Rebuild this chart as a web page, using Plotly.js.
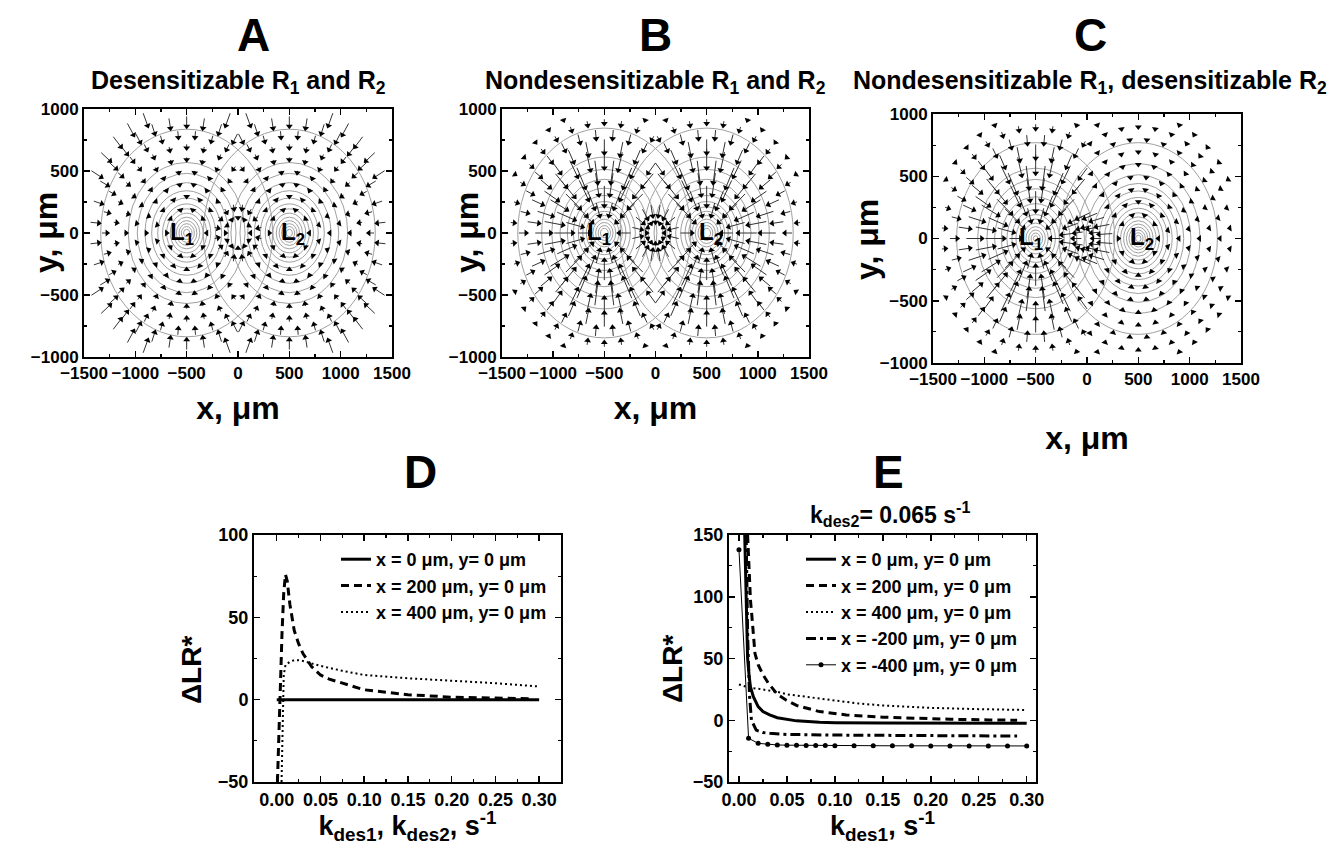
<!DOCTYPE html>
<html><head><meta charset="utf-8">
<script src="https://cdn.plot.ly/plotly-3.0.1.min.js"></script>
<style>body{margin:0;background:#fff}</style>
</head><body><div id="chart" style="width:1339px;height:845px"></div>
<script>
// ---------------- DATA ----------------
// Panel D: ΔLR* vs kdes1 = kdes2
const kD_0 = [0.0, 0.05, 0.10, 0.15, 0.20, 0.25, 0.30];
const vD_0 = [0, 0, 0, 0, 0, 0, 0];
const kD_200 = [0.0008, 0.002, 0.004, 0.006, 0.008, 0.010, 0.012, 0.015, 0.02, 0.025, 0.03, 0.04, 0.05, 0.06, 0.075, 0.10, 0.125, 0.15, 0.175, 0.20, 0.25, 0.29];
const vD_200 = [-50, -25, 5, 40, 65, 76, 72, 58, 42, 34, 28, 20, 15, 12.5, 10, 6, 4.5, 3, 2.3, 1.5, 1, 0.5];
const kD_400 = [0.0055, 0.007, 0.008, 0.010, 0.015, 0.02, 0.025, 0.03, 0.04, 0.05, 0.075, 0.10, 0.15, 0.20, 0.25, 0.30];
const vD_400 = [-50, -5, 15, 21, 23, 24, 24, 23.5, 22, 20.5, 17.5, 15, 13, 11.5, 10, 8];

// Panel E: ΔLR* vs kdes1 (kdes2 = 0.065)
const kE_0 = [0.006, 0.007, 0.008, 0.009, 0.0107, 0.012, 0.015, 0.020, 0.025, 0.032, 0.040, 0.049, 0.060, 0.084, 0.10, 0.15, 0.20, 0.25, 0.30];
const vE_0 = [150, 110, 75, 50, 35, 27, 19, 11, 7, 4.3, 2, 0.8, -0.5, -1.7, -2, -2.3, -2.5, -2.5, -2.5];
const kE_200 = [0.009, 0.0105, 0.012, 0.0135, 0.0167, 0.020, 0.025, 0.0306, 0.040, 0.049, 0.060, 0.084, 0.112, 0.15, 0.18, 0.22, 0.26, 0.29];
const vE_200 = [150, 120, 97, 84, 54, 45, 37, 30, 21, 16.4, 12, 7, 4.3, 2.5, 1.6, 0.8, 0.3, 0];
const kE_400 = [0.0, 0.01, 0.02, 0.03, 0.04, 0.05, 0.075, 0.10, 0.125, 0.15, 0.18, 0.20, 0.25, 0.30];
const vE_400 = [29, 26.5, 25.5, 24.5, 23, 21, 18.5, 15.5, 13.5, 12, 10.5, 10, 9, 8.3];
const kE_m200 = [0.0075, 0.009, 0.011, 0.013, 0.018, 0.025, 0.032, 0.05, 0.10, 0.15, 0.20, 0.25, 0.29];
const vE_m200 = [150, 70, 20, 0, -8, -10, -10.6, -11.5, -12, -12.3, -12.5, -12.7, -12.8];
const kE_m400 = [0.0, 0.01, 0.02, 0.03, 0.04, 0.05, 0.06, 0.07, 0.08, 0.09, 0.10, 0.12, 0.14, 0.16, 0.18, 0.20, 0.22, 0.24, 0.26, 0.28, 0.30];
const vE_m400 = [138, -14.6, -18.7, -19.5, -20, -20.2, -20.3, -20.4, -20.5, -20.5, -20.6, -20.6, -20.7, -20.7, -20.7, -20.8, -20.8, -20.8, -20.8, -20.8, -20.8];

// Legend labels
const legendLabelsD = ["x = 0 μm, y= 0 μm", "x = 200 μm, y= 0 μm", "x = 400 μm, y= 0 μm"];
const legendLabelsE = ["x = 0 μm, y= 0 μm", "x = 200 μm, y= 0 μm", "x = 400 μm, y= 0 μm", "x = -200 μm, y= 0 μm", "x = -400 μm, y= 0 μm"];

// Source positions (μm)
const sourceX = [-500, 500];
const sourceLabels = ["L<sub>1</sub>", "L<sub>2</sub>"];

// Contour radii (μm)
const contourA = [837, 569, 481, 406, 341, 282, 235, 195, 160, 128, 100, 75, 52, 30];
const contourB = [846, 612, 514, 433, 362, 303, 254, 211, 175, 142, 112, 85, 60, 38];
const contourC1 = [770, 565, 475, 400, 335, 280, 232, 192, 156, 124, 95, 68, 44, 22];
const contourC2 = [770, 600, 512, 442, 382, 330, 284, 243, 206, 173, 143, 116, 91, 68, 46, 26];

// Quiver sampling rings around each source and the midpoint
const ringR = [200, 300, 400, 500, 600, 700, 800, 900, 1000];
const ringN = [10, 14, 18, 20, 24, 26, 30, 34, 38];
const centerR_A = [130, 215];
const centerR_BC = [95, 185];
const centerN = [12, 16];
// arrow lengths (μm) per ring
const lenA = [10, 10, 12, 15, 20, 30, 50, 80, 110];
const lenA_c = [15, 35];
const lenB = [110, 160, 180, 180, 150, 110, 70, 35, 15];
const lenB_c = [15, 90];
const lenC1 = [110, 160, 180, 180, 150, 110, 70, 35, 15];
const lenC2 = [10, 10, 10, 10, 10, 10, 10, 10, 10];
const lenC_c = [80, 130];

// ---------------- LAYOUT GEOMETRY ----------------
const W = 1339, H = 845;
const FONT = "Liberation Sans, Arial, sans-serif";
const px = (a, b) => [a / W, b / W];
const py = (top, bot) => [1 - bot / H, 1 - top / H];
const dom = {
  A: {x: px(84, 392), y: py(109, 357)},
  B: {x: px(502, 809), y: py(109, 357)},
  C: {x: px(933, 1241), y: py(114, 363)},
  D: {x: px(254, 561), y: py(535, 782)},
  E: {x: px(729, 1036), y: py(535, 782)}
};

function arrows(xa, ya, d, lens, centerR, lensC, centerTarget) {
  const sx = (d.x[1] - d.x[0]) * W / 3000;
  const sy = (d.y[1] - d.y[0]) * H / 2000;
  const shX = [], shY = [], hX = [], hY = [], ang = [];
  function add(x, y, tx, ty, L) {
    const dx = tx - x, dy = ty - y, dd = Math.hypot(dx, dy);
    if (dd < 1) return;
    const ux = dx / dd, uy = dy / dd;
    const x0 = x - ux * L / 2, y0 = y - uy * L / 2, x1 = x + ux * L / 2, y1 = y + uy * L / 2;
    shX.push(x0, x1, null); shY.push(y0, y1, null);
    hX.push(x1); hY.push(y1);
    ang.push(Math.atan2(ux * sx, uy * sy) * 180 / Math.PI);
  }
  sourceX.forEach((cx, si) => {
    ringR.forEach((r, i) => {
      const n = ringN[i];
      for (let j = 0; j < n; j++) {
        const a = 2 * Math.PI * j / n + (i % 2 ? Math.PI / n : 0);
        const x = cx + r * Math.cos(a), y = r * Math.sin(a);
        if (x * cx < 0) continue;
        if (Math.hypot(x, y) < 260) continue;
        if (Math.abs(x) > 1420 || Math.abs(y) > 950) continue;
        add(x, y, cx, 0, lens[si][i]);
      }
    });
  });
  centerR.forEach((r, i) => {
    const n = centerN[i];
    for (let j = 0; j < n; j++) {
      const a = 2 * Math.PI * j / n + (i % 2 ? Math.PI / n : 0);
      const x = r * Math.cos(a), y = r * Math.sin(a);
      const t = centerTarget === 'L1' ? [-500, 0] : [0, 0];
      add(x, y, t[0], t[1], lensC[i]);
    }
  });
  return [
    {x: shX, y: shY, xaxis: xa, yaxis: ya, mode: 'lines', line: {color: '#333', width: 1}, showlegend: false, hoverinfo: 'skip'},
    {x: hX, y: hY, xaxis: xa, yaxis: ya, mode: 'markers', marker: {symbol: 'triangle-up', size: 6, color: '#000', angle: ang}, showlegend: false, hoverinfo: 'skip'}
  ];
}

const traces = [];
traces.push(...arrows('x', 'y', dom.A, [lenA, lenA], centerR_A, lenA_c, 'O'));
traces.push(...arrows('x2', 'y2', dom.B, [lenB, lenB], centerR_BC, lenB_c, 'O'));
traces.push(...arrows('x3', 'y3', dom.C, [lenC1, lenC2], centerR_BC, lenC_c, 'L1'));

// D lines
traces.push({x: kD_0, y: vD_0, xaxis: 'x4', yaxis: 'y4', mode: 'lines', name: legendLabelsD[0], line: {color: '#000', width: 3}, legend: 'legend'});
traces.push({x: kD_200, y: vD_200, xaxis: 'x4', yaxis: 'y4', mode: 'lines', name: legendLabelsD[1], line: {color: '#000', width: 3, dash: '8px,5px'}, legend: 'legend'});
traces.push({x: kD_400, y: vD_400, xaxis: 'x4', yaxis: 'y4', mode: 'lines', name: legendLabelsD[2], line: {color: '#000', width: 2, dash: '2px,3px'}, legend: 'legend'});
// E lines
traces.push({x: kE_0, y: vE_0, xaxis: 'x5', yaxis: 'y5', mode: 'lines', name: legendLabelsE[0], line: {color: '#000', width: 3}, legend: 'legend2'});
traces.push({x: kE_200, y: vE_200, xaxis: 'x5', yaxis: 'y5', mode: 'lines', name: legendLabelsE[1], line: {color: '#000', width: 3, dash: '8px,5px'}, legend: 'legend2'});
traces.push({x: kE_400, y: vE_400, xaxis: 'x5', yaxis: 'y5', mode: 'lines', name: legendLabelsE[2], line: {color: '#000', width: 2, dash: '2px,3px'}, legend: 'legend2'});
traces.push({x: kE_m200, y: vE_m200, xaxis: 'x5', yaxis: 'y5', mode: 'lines', name: legendLabelsE[3], line: {color: '#000', width: 3, dash: '10px,4px,3px,4px'}, legend: 'legend2'});
traces.push({x: kE_m400, y: vE_m400, xaxis: 'x5', yaxis: 'y5', mode: 'lines+markers', name: legendLabelsE[4], line: {color: '#000', width: 1}, marker: {color: '#000', size: 5}, legend: 'legend2'});

// shapes: contour circles
const shapes = [];
function circles(xr, yr, cx, radii) {
  radii.forEach(r => shapes.push({type: 'circle', xref: xr, yref: yr, x0: cx - r, x1: cx + r, y0: -r, y1: r, line: {color: '#a0a0a0', width: 1}, layer: 'below'}));
}
circles('x', 'y', sourceX[0], contourA); circles('x', 'y', sourceX[1], contourA);
circles('x2', 'y2', sourceX[0], contourB); circles('x2', 'y2', sourceX[1], contourB);
circles('x3', 'y3', sourceX[0], contourC1); circles('x3', 'y3', sourceX[1], contourC2);

const tickF = (s) => ({family: FONT, size: s, color: '#000', weight: 'bold'});
function ax(domain, range, dtick, minorDtick, fs, extra) {
  return Object.assign({
    domain: domain, range: range, dtick: dtick, tick0: 0, ticks: 'inside', ticklen: 6, tickwidth: 1.5, tickcolor: '#000',
    minor: {dtick: minorDtick, ticks: 'inside', ticklen: 3, tickcolor: '#000', tickwidth: 1.2},
    showline: true, linecolor: '#000', linewidth: 2, mirror: 'ticks', showgrid: false, zeroline: false,
    tickfont: tickF(fs), tickangle: 0, fixedrange: true
  }, extra || {});
}
const xTitle = (t, s, sz) => ({title: {text: t, font: {family: FONT, size: sz, color: '#000', weight: 'bold'}, standoff: s}});

const layout = {
  width: W, height: H, margin: {l: 0, r: 0, t: 0, b: 0}, paper_bgcolor: '#fff', plot_bgcolor: '#fff',
  font: {family: FONT, color: '#000'},
  xaxis: ax(dom.A.x, [-1500, 1500], 500, 250, 17, Object.assign({anchor: 'y'}, xTitle('x, μm', 14, 32))),
  yaxis: ax(dom.A.y, [-1000, 1000], 500, 250, 17, {anchor: 'x'}),
  xaxis2: ax(dom.B.x, [-1500, 1500], 500, 250, 17, Object.assign({anchor: 'y2'}, xTitle('x, μm', 14, 32))),
  yaxis2: ax(dom.B.y, [-1000, 1000], 500, 250, 17, {anchor: 'x2'}),
  xaxis3: ax(dom.C.x, [-1500, 1500], 500, 250, 17, Object.assign({anchor: 'y3'}, xTitle('x, μm', 38, 32))),
  yaxis3: ax(dom.C.y, [-1000, 1000], 500, 250, 17, {anchor: 'x3'}),
  xaxis4: ax(dom.D.x, [-0.026, 0.325], 0.05, 0.025, 18, Object.assign({anchor: 'y4', tickformat: '.2f'}, xTitle('k<sub>des1</sub>, k<sub>des2</sub>, s<sup>-1</sup>', 12, 27))),
  yaxis4: ax(dom.D.y, [-50, 100], 50, 25, 18, {anchor: 'x4'}),
  xaxis5: ax(dom.E.x, [-0.0104, 0.3097], 0.05, 0.025, 18, Object.assign({anchor: 'y5', tickformat: '.2f'}, xTitle('k<sub>des1</sub>, s<sup>-1</sup>', 12, 27))),
  yaxis5: ax(dom.E.y, [-50, 150], 50, 25, 18, {anchor: 'x5'}),
  legend: {x: 336 / W, y: 1 - 541 / H, xanchor: 'left', yanchor: 'top', bgcolor: 'rgba(0,0,0,0)', borderwidth: 0, tracegroupgap: 0,
    font: {family: FONT, size: 18, color: '#000', weight: 'bold'}, itemwidth: 30},
  legend2: {x: 801 / W, y: 1 - 541 / H, xanchor: 'left', yanchor: 'top', bgcolor: 'rgba(0,0,0,0)', borderwidth: 0, tracegroupgap: 0,
    font: {family: FONT, size: 18, color: '#000', weight: 'bold'}, itemwidth: 30},
  shapes: shapes,
  annotations: []
};

function ann(text, x, y, size, extra) {
  layout.annotations.push(Object.assign({text: text, x: x / W, y: 1 - y / H, xref: 'paper', yref: 'paper', showarrow: false,
    xanchor: 'center', yanchor: 'middle', font: {family: FONT, size: size, color: '#000', weight: 'bold'}}, extra || {}));
}
// panel letters
ann('A', 253, 35, 46); ann('B', 655, 35, 46); ann('C', 1090, 35, 46); ann('D', 420, 472, 46); ann('E', 888, 472, 46);
// panel subtitles
ann('Desensitizable R<sub>1</sub> and R<sub>2</sub>', 238, 82, 25);
ann('Nondesensitizable R<sub>1</sub> and R<sub>2</sub>', 655, 82, 25);
ann('Nondesensitizable R<sub>1</sub>, desensitizable R<sub>2</sub>', 1090, 82, 25);
ann('k<sub>des2</sub>= 0.065 s<sup>-1</sup>', 890, 514, 23);
// y titles
ann('y, μm', 46, 233, 32, {textangle: -90});
ann('y, μm', 467, 233, 32, {textangle: -90});
ann('y, μm', 867, 240, 32, {textangle: -90});
ann('ΔLR*', 191, 670, 28, {textangle: -90});
ann('ΔLR*', 672, 669, 28, {textangle: -90});
// source labels
[['x', 'y'], ['x2', 'y2'], ['x3', 'y3']].forEach(([xr, yr]) => {
  layout.annotations.push({text: sourceLabels[0], x: -550, y: 0, xref: xr, yref: yr, showarrow: false, font: {family: FONT, size: 24, color: '#000', weight: 'bold'}});
  layout.annotations.push({text: sourceLabels[1], x: 540, y: 0, xref: xr, yref: yr, showarrow: false, font: {family: FONT, size: 24, color: '#000', weight: 'bold'}});
});

Plotly.newPlot('chart', traces, layout, {displayModeBar: false, staticPlot: true});
</script></body></html>
